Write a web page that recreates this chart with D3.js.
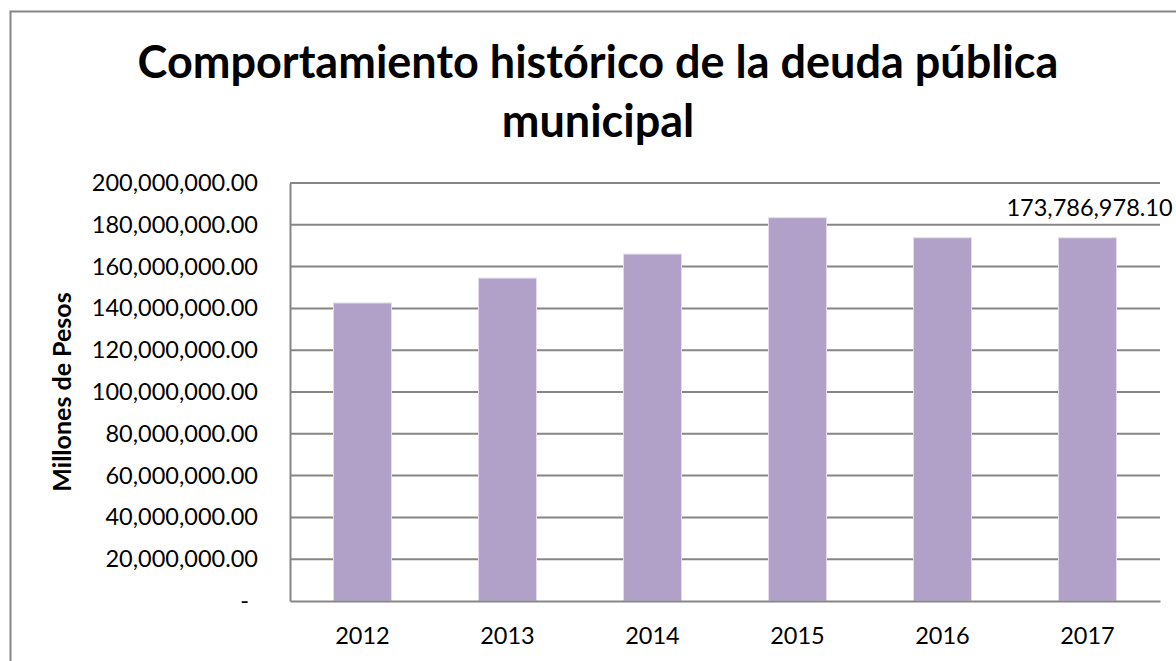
<!DOCTYPE html>
<html>
<head>
<meta charset="utf-8">
<script src="https://cdn.jsdelivr.net/npm/d3@7"></script>
<style>
  body { margin: 0; background: #fff; }
  svg { display: block; }
  text { font-family: Lato, "Open Sans", sans-serif; fill: #000; }
</style>
</head>
<body>
<svg id="chart" width="1176" height="661"></svg>
<script>
var years = ['2012', '2013', '2014', '2015', '2016', '2017'];
var deuda = [142600000, 154500000, 166000000, 183400000, 173800000, 173786978.10];
var yTicks = [0, 20000000, 40000000, 60000000, 80000000, 100000000,
    120000000, 140000000, 160000000, 180000000, 200000000];
var titleLines = ['Comportamiento histórico de la deuda pública', 'municipal'];
var yTitle = 'Millones de Pesos';

var margin = {top: 183, right: 16, bottom: 60, left: 290};
var width = 1176 - margin.left - margin.right;
var height = 661 - margin.top - margin.bottom;

var svg = d3.select('#chart');

// outer chart frame (runs off the right and bottom of the picture)
svg.append('rect')
    .attr('x', 10.5)
    .attr('y', 11.5)
    .attr('width', 1200)
    .attr('height', 700)
    .style('fill', 'none')
    .style('stroke', '#868686')
    .style('stroke-width', 2);

var xScale = d3.scaleBand().domain(years).range([0, width]).paddingInner(0.6).paddingOuter(0.3);
var yScale = d3.scaleLinear().domain([0, 200000000]).range([height, 0]);

var fmt = d3.format(',.2f');

var g = svg.append('g')
    .attr('transform', 'translate(' + margin.left + ',' + margin.top + ')');

/* Gridlines */
g.append('g')
    .selectAll('line')
    .data(yTicks.slice(1))
    .join('line')
    .attr('x1', 0)
    .attr('x2', width)
    .attr('y1', function(d) { return yScale(d); })
    .attr('y2', function(d) { return yScale(d); })
    .style('stroke', '#868686')
    .style('stroke-width', 2);

/* Bars */
g.append('g')
    .selectAll('rect')
    .data(deuda)
    .join('rect')
    .attr('x', function(d, i) { return xScale(years[i]); })
    .attr('y', function(d) { return yScale(d); })
    .attr('width', xScale.bandwidth())
    .attr('height', function(d) { return height - yScale(d); })
    .style('fill', '#b1a0c7')
    .style('stroke', '#e4dcee')
    .style('stroke-width', 1);

/* Axes */
var yAxis = d3.axisLeft(yScale)
    .tickValues(yTicks)
    .tickSize(0)
    .tickPadding(32)
    .tickFormat(function(d) { return d === 0 ? '-' : fmt(d); });

var yg = g.append('g').call(yAxis);
yg.select('.domain').style('stroke', '#868686').style('stroke-width', 2);
yg.selectAll('text')
    .style('font-size', '23.5px')
    .attr('dx', function(d) { return d === 0 ? -9 : 0; });

var xAxis = d3.axisBottom(xScale).tickSize(0).tickPadding(26);
var xg = g.append('g')
    .attr('transform', 'translate(0,' + height + ')')
    .call(xAxis);
xg.select('.domain').style('stroke', '#868686').style('stroke-width', 2);
xg.selectAll('text').style('font-size', '23.5px');

/* Data label on the last bar */
var last = deuda.length - 1;
g.append('text')
    .attr('x', xScale(years[last]) + xScale.bandwidth() / 2 + 2)
    .attr('y', yScale(deuda[last]) - 22)
    .attr('text-anchor', 'middle')
    .style('font-size', '23.5px')
    .text(fmt(deuda[last]));

/* Titles */
svg.append('g')
    .selectAll('text')
    .data(titleLines)
    .join('text')
    .attr('x', 598)
    .attr('y', function(d, i) { return 78 + i * 59; })
    .attr('text-anchor', 'middle')
    .style('font-size', '45px')
    .style('font-weight', 'bold')
    .text(function(d) { return d; });

svg.append('text')
    .attr('transform', 'translate(71,' + (margin.top + height / 2) + ') rotate(-90)')
    .attr('text-anchor', 'middle')
    .style('font-size', '25px')
    .style('font-weight', 'bold')
    .text(yTitle);
</script>
</body>
</html>
